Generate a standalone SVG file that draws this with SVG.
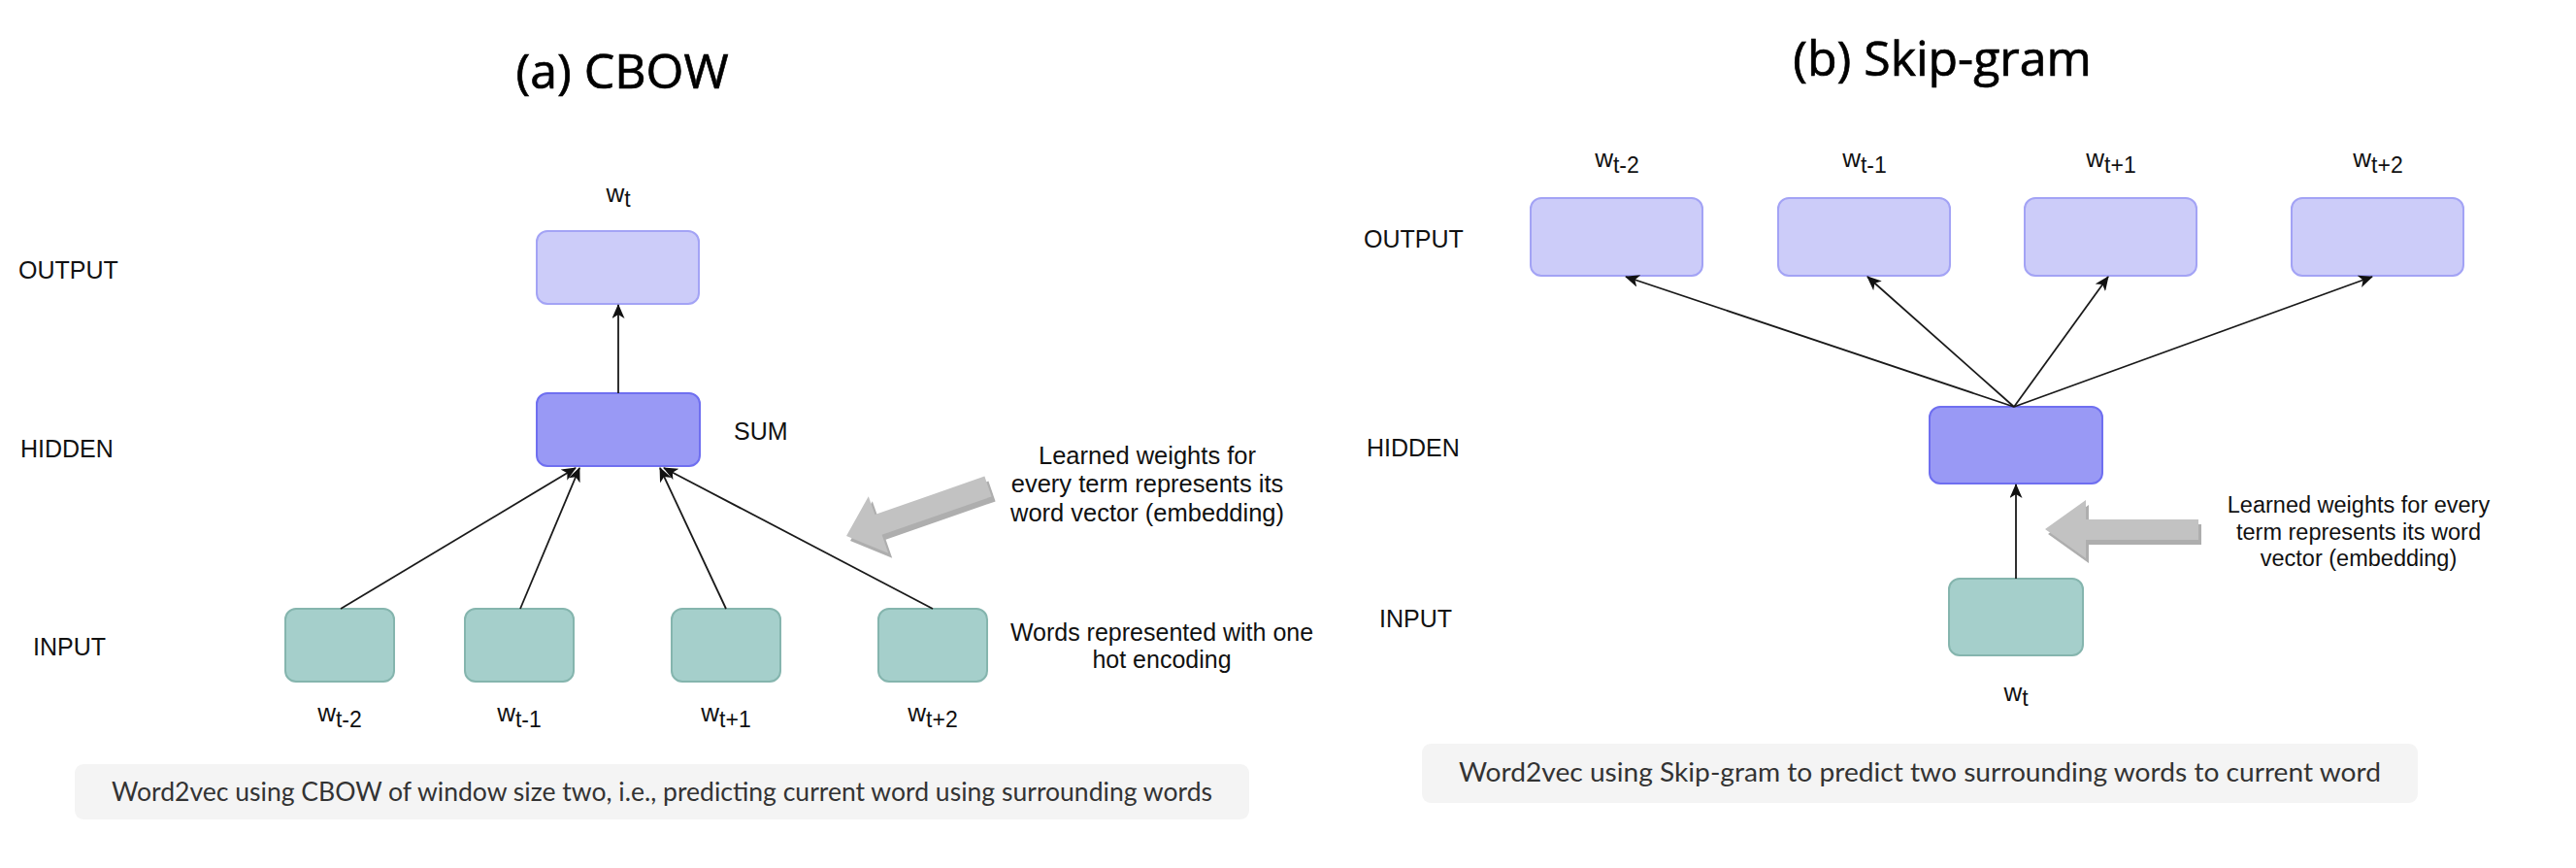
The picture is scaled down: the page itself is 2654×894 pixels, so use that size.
<svg xmlns="http://www.w3.org/2000/svg" width="2654" height="894" viewBox="0 0 2654 894">
<style>
.title{font-family:"Open Sans",sans-serif;font-size:50px;fill:#000;stroke:#000;stroke-width:0.7}
.lbl{font-family:"Liberation Sans",Arial,sans-serif;font-size:25px;fill:#111}
.ann{font-family:"Liberation Sans",Arial,sans-serif;fill:#111;text-anchor:middle}
.wl{font-family:"Liberation Sans",Arial,sans-serif;font-size:26px;fill:#111;text-anchor:middle}
.sub{font-size:23px}
.cap{font-family:Lato,"Open Sans",sans-serif;font-size:26px;fill:#333}
.capbox{fill:#F4F4F4}
.out{fill:#CCCCF9;stroke:#A3A3F5;stroke-width:2}
.hid{fill:#9999F5;stroke:#6F6FF0;stroke-width:2}
.inp{fill:#A5CFCB;stroke:#85B5AE;stroke-width:2}
.edge{stroke:#1a1a1a;stroke-width:1.8;fill:none;marker-end:url(#ah)}
.gmain{fill:#C2C2C2}
.gshadow{fill:#AEAEAE}
</style>
<defs>
<marker id="ah" viewBox="0 0 15 13" refX="14" refY="6.5" markerWidth="15" markerHeight="13" markerUnits="userSpaceOnUse" orient="auto">
<path d="M0,0 L15,6.5 L0,13 L4,6.5 Z" fill="#111"/>
</marker>
</defs>
<rect width="2654" height="894" fill="#fff"/>

<!-- CBOW -->
<text class="title" x="641" y="91" text-anchor="middle">(a) CBOW</text>
<text class="lbl" x="19" y="287">OUTPUT</text>
<text class="lbl" x="21" y="471">HIDDEN</text>
<text class="lbl" x="34" y="675">INPUT</text>

<g id="cbow-output">
<rect class="out" x="553" y="238" width="167" height="75" rx="11"/>
<text class="wl" x="637" y="208">w<tspan class="sub" dy="5">t</tspan></text>
</g>
<g id="cbow-hidden">
<rect class="hid" x="553" y="405" width="168" height="75" rx="11"/>
<text class="lbl" x="756" y="453">SUM</text>
</g>
<g id="cbow-in-tm2">
<rect class="inp" x="294" y="627" width="112" height="75" rx="11"/>
<text class="wl" x="350" y="743">w<tspan class="sub" dy="6">t-2</tspan></text>
</g>
<g id="cbow-in-tm1">
<rect class="inp" x="479" y="627" width="112" height="75" rx="11"/>
<text class="wl" x="535" y="743">w<tspan class="sub" dy="6">t-1</tspan></text>
</g>
<g id="cbow-in-tp1">
<rect class="inp" x="692" y="627" width="112" height="75" rx="11"/>
<text class="wl" x="748" y="743">w<tspan class="sub" dy="6">t+1</tspan></text>
</g>
<g id="cbow-in-tp2">
<rect class="inp" x="905" y="627" width="112" height="75" rx="11"/>
<text class="wl" x="961" y="743">w<tspan class="sub" dy="6">t+2</tspan></text>
</g>

<g id="cbow-connectors">
<line class="edge" x1="637" y1="405" x2="637" y2="314"/>
<line class="edge" x1="351" y1="627" x2="593" y2="482"/>
<line class="edge" x1="536" y1="627" x2="597" y2="482"/>
<line class="edge" x1="748" y1="627" x2="680" y2="482"/>
<line class="edge" x1="961" y1="627" x2="684" y2="482"/>
</g>

<g id="cbow-gray-arrow">
<polygon class="gshadow" transform="translate(4,5)" points="872,552 915.2,569.7 908.6,550.8 1021.6,511.4 1014.4,490.6 901.4,530.1 894.8,511.2"/>
<polygon class="gmain" points="872,552 915.2,569.7 908.6,550.8 1021.6,511.4 1014.4,490.6 901.4,530.1 894.8,511.2"/>
</g>
<g id="cbow-annotation" class="ann" font-size="25.5">
<text x="1182" y="478">Learned weights for</text>
<text x="1182" y="507">every term represents its</text>
<text x="1182" y="537">word vector (embedding)</text>
</g>
<g id="cbow-input-note" class="ann" font-size="25">
<text x="1197" y="660">Words represented with one</text>
<text x="1197" y="688">hot encoding</text>
</g>
<g id="cbow-caption">
<rect class="capbox" x="77" y="787" width="1210" height="57" rx="9"/>
<text class="cap" x="115" y="825" textLength="1134" lengthAdjust="spacingAndGlyphs">Word2vec using CBOW of window size two, i.e., predicting current word using surrounding words</text>
</g>

<!-- Skip-gram -->
<text class="title" x="2001" y="78" text-anchor="middle">(b) Skip-gram</text>
<text class="lbl" x="1405" y="255">OUTPUT</text>
<text class="lbl" x="1408" y="470">HIDDEN</text>
<text class="lbl" x="1421" y="646">INPUT</text>

<g id="sg-out-tm2">
<rect class="out" x="1577" y="204" width="177" height="80" rx="11"/>
<text class="wl" x="1666" y="172">w<tspan class="sub" dy="6">t-2</tspan></text>
</g>
<g id="sg-out-tm1">
<rect class="out" x="1832" y="204" width="177" height="80" rx="11"/>
<text class="wl" x="1921" y="172">w<tspan class="sub" dy="6">t-1</tspan></text>
</g>
<g id="sg-out-tp1">
<rect class="out" x="2086" y="204" width="177" height="80" rx="11"/>
<text class="wl" x="2175" y="172">w<tspan class="sub" dy="6">t+1</tspan></text>
</g>
<g id="sg-out-tp2">
<rect class="out" x="2361" y="204" width="177" height="80" rx="11"/>
<text class="wl" x="2450" y="172">w<tspan class="sub" dy="6">t+2</tspan></text>
</g>
<g id="sg-hidden">
<rect class="hid" x="1988" y="419" width="178" height="79" rx="11"/>
</g>
<g id="sg-input">
<rect class="inp" x="2008" y="596" width="138" height="79" rx="11"/>
<text class="wl" x="2077" y="722">w<tspan class="sub" dy="5">t</tspan></text>
</g>

<g id="sg-connectors">
<line class="edge" x1="2077" y1="596" x2="2077" y2="499"/>
<line class="edge" x1="2075" y1="419" x2="1675" y2="285"/>
<line class="edge" x1="2075" y1="419" x2="1924" y2="285"/>
<line class="edge" x1="2075" y1="419" x2="2172" y2="285"/>
<line class="edge" x1="2075" y1="419" x2="2444" y2="285"/>
</g>

<g id="sg-gray-arrow">
<polygon class="gshadow" transform="translate(3,5)" points="2107,545 2149,515 2149,535 2265,535 2265,556 2149,556 2149,575"/>
<polygon class="gmain" points="2107,545 2149,515 2149,535 2265,535 2265,556 2149,556 2149,575"/>
</g>
<g id="sg-annotation" class="ann" font-size="23.5">
<text x="2430" y="528">Learned weights for every</text>
<text x="2430" y="556">term represents its word</text>
<text x="2430" y="583">vector (embedding)</text>
</g>
<g id="sg-caption">
<rect class="capbox" x="1465" y="766" width="1026" height="61" rx="9"/>
<text class="cap" x="1503" y="805" textLength="950" lengthAdjust="spacingAndGlyphs">Word2vec using Skip-gram to predict two surrounding words to current word</text>
</g>
</svg>
